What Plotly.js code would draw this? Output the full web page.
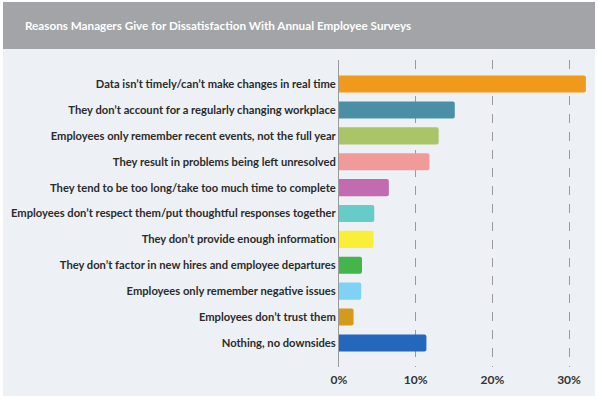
<!DOCTYPE html>
<html>
<head>
<meta charset="utf-8">
<script src="https://cdn.plot.ly/plotly-3.0.1.min.js"></script>
<style>html,body{margin:0;padding:0;background:#fff;}#chart{width:598px;height:400px;}</style>
</head>
<body>
<div id="chart"></div>
<script>
const categories = [
  "Data isn’t timely/can’t make changes in real time",
  "They don’t account for a regularly changing workplace",
  "Employees only remember recent events, not the full year",
  "They result in problems being left unresolved",
  "They tend to be too long/take too much time to complete",
  "Employees don’t respect them/put thoughtful responses together",
  "They don’t provide enough information",
  "They don’t factor in new hires and employee departures",
  "Employees only remember negative issues",
  "Employees don’t trust them",
  "Nothing, no downsides"
];
const values = [32.2, 15.1, 13.0, 11.8, 6.5, 4.6, 4.5, 3.0, 2.9, 1.9, 11.4];
const barColors = ["#f0991a", "#4b8fa6", "#aac567", "#f09a9a", "#c26bb0", "#67cbc8", "#f9ee38", "#43b54a", "#80d2f5", "#d49a1c", "#2368bd"];
const xTickVals = [0, 10, 20, 30];
const xTickText = ["0%", "10%", "20%", "30%"];
const titleText = "Reasons Managers Give for Dissatisfaction With Annual Employee Surveys";

const W = 598, H = 400;
const m = {l: 339, r: 8, t: 60, b: 33};
const pw = W - m.l - m.r, ph = H - m.t - m.b;
const px = v => (v - m.l) / pw;
const py = v => (H - m.b - v) / ph;

const FONT = "Lato, 'Liberation Sans', sans-serif";

const trace = {
  type: "bar",
  orientation: "h",
  x: values,
  y: categories,
  marker: {color: barColors, cornerradius: 2},
  hoverinfo: "x+y"
};

const layout = {
  width: W, height: H,
  margin: m,
  paper_bgcolor: "#ffffff",
  plot_bgcolor: "rgba(0,0,0,0)",
  showlegend: false,
  bargap: 0.34,
  title: {
    text: titleText,
    x: 25 / W, xanchor: "left", xref: "container",
    y: 1 - 26 / H, yanchor: "middle", yref: "container",
    font: {family: FONT, size: 11.7, color: "#ffffff", weight: "bold"}
  },
  xaxis: {
    range: [0, (590 - 339) / 7.667],
    tickvals: xTickVals,
    ticktext: xTickText,
    showgrid: true,
    gridcolor: "#9a9a9a",
    griddash: "dash",
    gridwidth: 1,
    zeroline: false,
    showline: false,
    ticks: "",
    ticklen: 0,
    ticklabelstandoff: 4,
    tickfont: {family: FONT, size: 12, color: "#333333", weight: "bold"}
  },
  yaxis: {
    type: "category",
    range: [10.93, -0.93],
    showgrid: false,
    zeroline: false,
    showline: true,
    linecolor: "#9a9a9a",
    linewidth: 1,
    ticks: "",
    ticklen: 0,
    tickfont: {family: FONT, size: 11.2, color: "#2b2b2b", weight: "bold"}
  },
  shapes: [
    {type: "rect", xref: "paper", yref: "paper", layer: "below",
     x0: px(3), x1: px(595), y0: py(396), y1: py(2),
     fillcolor: "#edf1f6", line: {width: 0}},
    {type: "rect", xref: "paper", yref: "paper", layer: "below",
     x0: px(3), x1: px(595), y0: py(49), y1: py(2),
     fillcolor: "#a2a4a7", line: {width: 0}}
  ]
};

Plotly.newPlot("chart", [trace], layout, {displayModeBar: false, staticPlot: true});
</script>
</body>
</html>
